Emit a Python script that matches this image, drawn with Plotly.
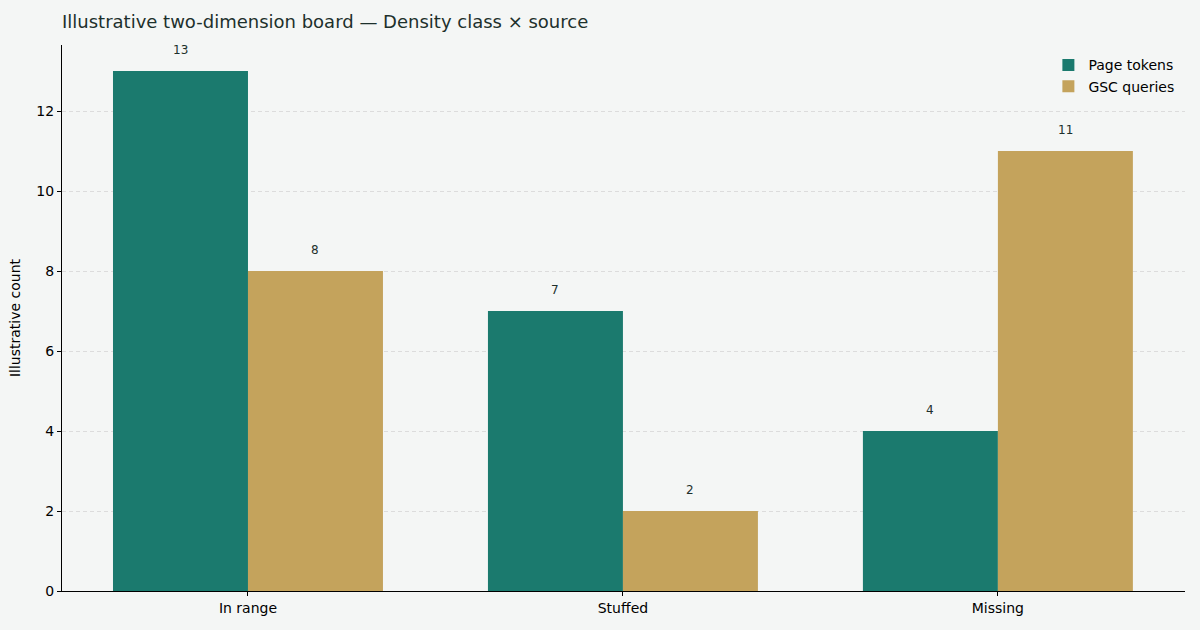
import plotly.graph_objects as go

categories = ["In range", "Stuffed", "Missing"]
page_tokens = [13, 7, 4]
gsc_queries = [8, 2, 11]
y_ticks = [0, 2, 4, 6, 8, 10, 12]

TEAL = "#1b7a6e"
GOLD = "#c4a35c"
BG = "#f4f6f5"
TXT = "#1d302c"

xs = list(range(len(categories)))
w = 0.36

fig = go.Figure()
fig.add_trace(go.Bar(x=[i - w / 2 for i in xs], y=page_tokens, width=w, name="Page tokens",
                     marker=dict(color=TEAL, line=dict(width=0))))
fig.add_trace(go.Bar(x=[i + w / 2 for i in xs], y=gsc_queries, width=w, name="GSC queries",
                     marker=dict(color=GOLD, line=dict(width=0))))

for i, v in zip(xs, page_tokens):
    fig.add_annotation(x=i - w / 2, y=v, text=str(v), showarrow=False, yanchor="bottom",
                       yshift=12, font=dict(size=12, color=TXT, family="DejaVu Sans"))
for i, v in zip(xs, gsc_queries):
    fig.add_annotation(x=i + w / 2, y=v, text=str(v), showarrow=False, yanchor="bottom",
                       yshift=12, font=dict(size=12, color=TXT, family="DejaVu Sans"))

fig.update_layout(
    width=1200, height=630,
    paper_bgcolor=BG, plot_bgcolor=BG,
    margin=dict(l=62, r=15, t=45, b=39),
    font=dict(family="DejaVu Sans", size=14, color="#000000"),
    title=dict(text="Illustrative two-dimension board — Density class × source",
               x=62 / 1200, xanchor="left", y=1 - 22 / 630, yanchor="middle",
               font=dict(size=18, color=TXT, family="DejaVu Sans")),
    barmode="overlay",
    showlegend=True,
    legend=dict(x=0.995, y=0.992, xanchor="right", yanchor="top", bgcolor="rgba(0,0,0,0)",
                font=dict(size=14, color="#000000"), itemwidth=30, tracegroupgap=2),
    xaxis=dict(range=[-0.496, 2.499], tickmode="array", tickvals=xs, ticktext=categories,
               showgrid=False, zeroline=False, showline=True, linecolor="#000000", linewidth=1.2,
               ticks="outside", ticklen=4, tickcolor="#000000", tickfont=dict(size=14)),
    yaxis=dict(range=[0, 13.65], tickmode="array", tickvals=y_ticks,
               showgrid=True, gridcolor="#dcdcdc", griddash="4px,3px", gridwidth=1,
               zeroline=False, showline=True, linecolor="#000000", linewidth=1.2,
               ticks="outside", ticklen=4, tickcolor="#000000", tickfont=dict(size=14),
               title=dict(text="Illustrative count", font=dict(size=14), standoff=12)),
)

fig.write_html("out.html", config={"displayModeBar": False},
               post_script="document.body.style.margin='0';document.body.style.background='#f4f6f5';")
